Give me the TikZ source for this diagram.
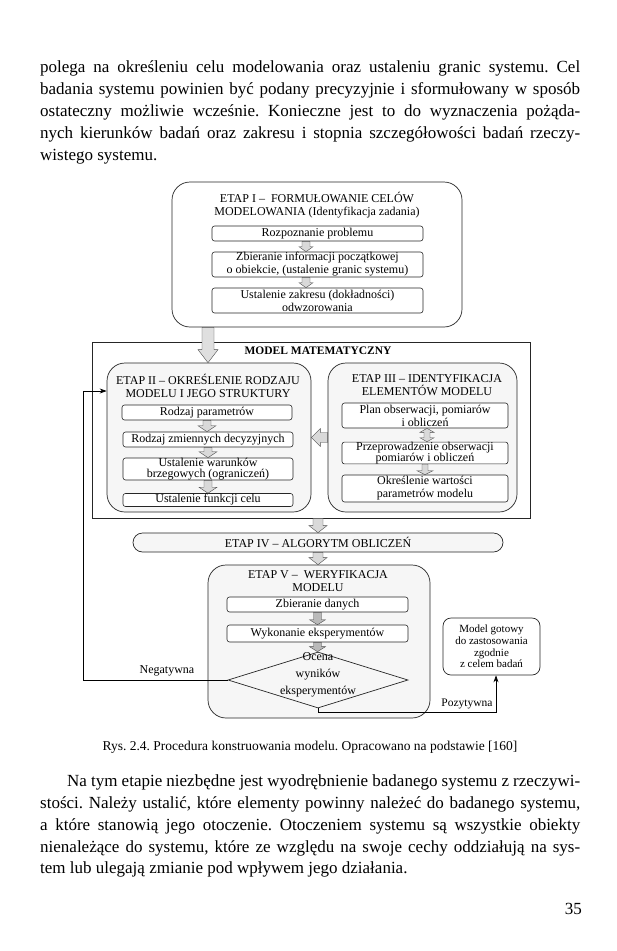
\documentclass[tikz,border=0pt]{standalone}
\usepackage{fontspec}
\setmainfont{Liberation Serif}
\usetikzlibrary{calc,arrows.meta,shapes.geometric}
\frenchspacing
\newcommand\dfont{\fontsize{12}{13}\selectfont}
% vertical block arrow: #2 node (south), #3 node (north), #4 dx, #5 shaft half, #6 head half, #7 head length
\newcommand\varrow[7][]{%
  \path[barrow,#1] let \p1=($(#2.south)+(#4,0)$), \p2=(#3.north) in
   (\x1-#5,\y1) -- (\x1+#5,\y1) -- (\x1+#5,\y2+#7) -- (\x1+#6,\y2+#7) -- (\x1,\y2)
   -- (\x1-#6,\y2+#7) -- (\x1-#5,\y2+#7) -- cycle;}
% leftward block arrow from #2.west to #3.east
\newcommand\larrow[5][]{%
  \path[barrow,#1] let \p1=(#2.west), \p2=(#3.east) in
   (\x1,\y1+#4) -- (\x1,\y1-#4) -- (\x2+9pt,\y1-#4) -- (\x2+9pt,\y1-#5) -- (\x2,\y1)
   -- (\x2+9pt,\y1+#5) -- (\x2+9pt,\y1+#4) -- cycle;}
% up-down block arrow between #2.south and #3.north
\newcommand\udarrow[6][]{%
  \path[barrow,#1] let \p1=($(#2.south)+(#4,0)$), \p2=(#3.north) in
   (\x1,\y1) -- (\x1+#6,\y1-4pt) -- (\x1+#5,\y1-4pt) -- (\x1+#5,\y2+4pt) -- (\x1+#6,\y2+4pt)
   -- (\x1,\y2) -- (\x1-#6,\y2+4pt) -- (\x1-#5,\y2+4pt) -- (\x1-#5,\y1-4pt) -- (\x1-#6,\y1-4pt) -- cycle;}

\begin{document}
\begin{tikzpicture}[x=1pt,y=-1pt,
  stage/.style={draw=black!85, line width=0.7pt, rounded corners=18pt, fill=gray!7, inner sep=0pt},
  inbox/.style={draw=black!85, line width=0.6pt, rounded corners=2.5pt, fill=white, inner sep=0pt, align=center, font=\dfont},
  ttl/.style={align=center, font=\dfont, inner sep=0pt},
  barrow/.style={fill=gray!30, draw=gray!60!black, line width=0.4pt},
  darrow/.style={fill=gray!55},
  conn/.style={draw=black, line width=0.7pt},
  body/.style={anchor=base west, inner sep=0pt, font=\fontsize{17}{22}\selectfont},
]
\useasboundingbox[fill=white] (0,0) rectangle (617,951);

% ---- top paragraph
\node[body] (p1a) at (40,72) {\makebox[540pt][s]{polega na określeniu celu modelowania oraz ustaleniu granic systemu. Cel}};
\node[body] (p1b) at (40,94) {\makebox[540pt][s]{badania systemu powinien być podany precyzyjnie i sformułowany w sposób}};
\node[body] (p1c) at (40,116) {\makebox[540pt][s]{ostateczny możliwie wcześnie. Konieczne jest to do wyznaczenia pożąda-}};
\node[body] (p1d) at (40,138) {\makebox[540pt][s]{nych kierunków badań oraz zakresu i stopnia szczegółowości badań rzeczy-}};
\node[body] (p1e) at (40,160) {wistego systemu.};

% ---- ETAP I
\node[stage, fill=white, minimum width=290, minimum height=145] (s1) at (317,254.5) {};
\node[ttl] (t1) at (317,205.5) {ETAP I –\ \ FORMUŁOWANIE CELÓW\\MODELOWANIA (Identyfikacja zadania)};
\node[inbox, minimum width=211, minimum height=15] (b1) at (317.5,233.5) {Rozpoznanie problemu};
\node[inbox, minimum width=211, minimum height=25] (b2) at (317.5,264.5) {Zbieranie informacji początkowej\\o obiekcie, (ustalenie granic systemu)};
\node[inbox, minimum width=211, minimum height=25] (b3) at (317.5,300.5) {Ustalenie zakresu (dokładności)\\odwzorowania};
\varrow{b1}{b2}{-11.5}{4pt}{7pt}{5pt}
\varrow{b2}{b3}{-11.5}{4pt}{7pt}{5pt}

% ---- MODEL MATEMATYCZNY
\node[draw=black!85, line width=0.7pt, minimum width=438, minimum height=176, inner sep=0pt] (mm) at (311,430) {};
\node[font=\fontsize{11.5}{13}\selectfont\bfseries, inner sep=0pt] (mml) at (318,350.5) {MODEL MATEMATYCZNY};

% ---- ETAP II
\node[stage, minimum width=204, minimum height=149] (s2) at (209,437.5) {};
\node[ttl] (t2) at (208,386) {ETAP II – OKREŚLENIE RODZAJU\\MODELU I JEGO STRUKTURY};
\node[inbox, minimum width=170, minimum height=15] (c1) at (207,412.5) {Rodzaj parametrów};
\node[inbox, minimum width=170, minimum height=15] (c2) at (208,439.5) {Rodzaj zmiennych decyzyjnych};
\node[inbox, minimum width=170, minimum height=22, font=\fontsize{12}{10.5}\selectfont] (c3) at (208,469) {Ustalenie warunków\\brzegowych (ograniczeń)};
\node[inbox, minimum width=170, minimum height=13] (c4) at (208,500) {Ustalenie funkcji celu};
\varrow{c1}{c2}{0}{4pt}{9pt}{6pt}
\varrow{c2}{c3}{0}{4pt}{9pt}{6pt}
\varrow{c3}{c4}{0}{4pt}{9pt}{6pt}

% ---- ETAP III
\node[stage, minimum width=189, minimum height=149] (s3) at (422.5,437.5) {};
\node[ttl] (t3) at (427,385) {ETAP III – IDENTYFIKACJA\\ELEMENTÓW MODELU};
\node[inbox, minimum width=166, minimum height=25] (d1) at (425,415.5) {Plan obserwacji, pomiarów\\i obliczeń};
\node[inbox, minimum width=166, minimum height=21, font=\fontsize{12}{11}\selectfont] (d2) at (425,453) {Przeprowadzenie obserwacji\\pomiarów i obliczeń};
\node[inbox, minimum width=166, minimum height=27] (d3) at (425,488.5) {Określenie wartości\\parametrów modelu};
\udarrow{d1}{d2}{2}{3pt}{7pt}
\varrow{d2}{d3}{0}{3pt}{8pt}{4pt}
\larrow{s3}{s2}{5pt}{9pt}

% big arrow ETAP I -> ETAP II
\varrow[fill=gray!25]{s1}{s2}{-109}{6pt}{10pt}{13pt}

% ---- ETAP IV
\node[stage, rounded corners=9.5pt, minimum width=370, minimum height=19, font=\dfont] (s4) at (318,542.5) {ETAP IV –\ ALGORYTM OBLICZEŃ};

% ---- ETAP V
\node[stage, minimum width=222, minimum height=153] (s5) at (319,641.5) {};
\node[ttl] (t5) at (318,581.5) {ETAP V –\ \ WERYFIKACJA\\MODELU};
\node[inbox, minimum width=181, minimum height=15] (e1) at (317.5,604.5) {Zbieranie danych};
\node[inbox, minimum width=181, minimum height=17] (e2) at (317.5,633.5) {Wykonanie eksperymentów};
\node[draw=black!85, line width=0.7pt, diamond, minimum width=180, minimum height=56, inner sep=0pt] (dm) at (318,680) {};
\node[ttl, font=\fontsize{12}{17}\selectfont] (dmt) at (318,675) {Ocena\\wyników\\eksperymentów};
\varrow{mm}{s4}{7}{5pt}{9pt}{7pt}
\varrow{s4}{s5}{0}{5pt}{9pt}{7pt}
\varrow[darrow]{e1}{e2}{0}{4pt}{8pt}{5pt}
\varrow[darrow]{e2}{dm}{0}{4pt}{8pt}{5pt}

% ---- Model gotowy
\node[draw=black!85, line width=0.7pt, rounded corners=8pt, minimum width=97, minimum height=57, inner sep=0pt, align=center, font=\fontsize{11}{11.7}\selectfont] (mg) at (491.5,646.5) {Model gotowy\\do zastosowania\\zgodnie\\z celem badań};

% ---- connectors
\coordinate (nl) at (83,680);
\coordinate (nt) at (83,391);
\draw[conn,-{Stealth[length=7pt,width=5pt]}] (dm.west) -- (nl) -- (nt) -- (nt -| s2.west);
\coordinate (pb) at (496,712);
\draw[conn,-{Stealth[length=7pt,width=5pt]}] (dm.south) |- (pb) -- (pb |- mg.south);
\node[font=\dfont, inner sep=0pt] (neg) at (167,671) {Negatywna};
\node[font=\fontsize{11.5}{13}\selectfont, inner sep=0pt] (poz) at (467,704) {Pozytywna};

% ---- caption
\node[font=\fontsize{13.5}{15}\selectfont, anchor=base, inner sep=0pt] (cap) at (310,750) {Rys. 2.4. Procedura konstruowania modelu. Opracowano na podstawie [160]};

% ---- bottom paragraph
\node[body] (p2a) at (40,786) {\makebox[540pt][s]{\hspace*{27pt}Na tym etapie niezbędne jest wyodrębnienie badanego systemu z rzeczywi-}};
\node[body] (p2b) at (40,808) {\makebox[540pt][s]{stości. Należy ustalić, które elementy powinny należeć do badanego systemu,}};
\node[body] (p2c) at (40,830) {\makebox[540pt][s]{a które stanowią jego otoczenie. Otoczeniem systemu są wszystkie obiekty}};
\node[body] (p2d) at (40,852) {\makebox[540pt][s]{nienależące do systemu, które ze względu na swoje cechy oddziałują na sys-}};
\node[body] (p2e) at (40,873) {tem lub ulegają zmianie pod wpływem jego działania.};

% ---- page number
\node[font=\fontsize{17}{20}\selectfont, anchor=base east, inner sep=0pt] (pn) at (582,914) {35};
\end{tikzpicture}
\end{document}
